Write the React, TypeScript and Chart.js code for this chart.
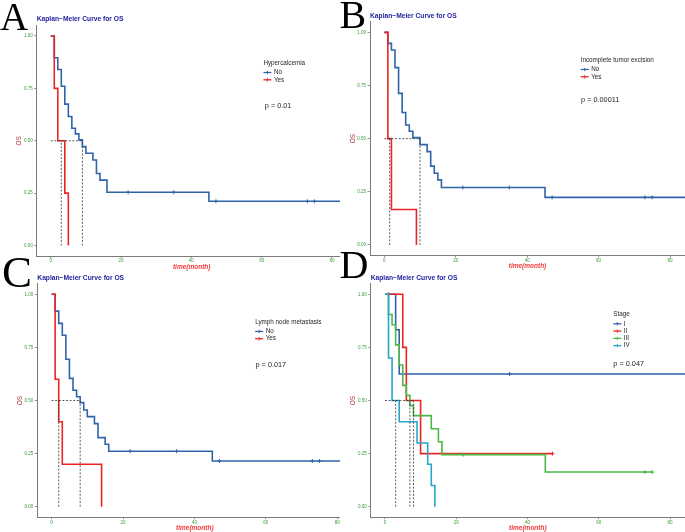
import React, { useEffect, useRef } from 'react';
import { Chart, registerables } from 'chart.js';

Chart.register(...registerables);

const FONT = '"Liberation Sans", Arial, Helvetica, sans-serif';
Chart.defaults.font.family = FONT;

// ---------------- shared axis data ----------------
const xTicks = [0, 20, 40, 60, 80];
const yTicks = [0, 0.25, 0.5, 0.75, 1];
const xRange = [-4, 84.2];
const yRange = [-0.05, 1.05];
const plotTitle = 'Kaplan\u2212Meier Curve for OS';
const xTitle = 'time(month)';
const yTitle = 'OS';

// ---------------- Panel A: Hypercalcemia ----------------
const aNoTimes = [0, 1, 2, 3, 4, 5, 6, 7, 8, 9, 10, 12, 13, 14, 16, 45];
const aNoSurv = [1, 0.896, 0.84, 0.76, 0.675, 0.616, 0.56, 0.533, 0.504, 0.472, 0.44, 0.408, 0.344, 0.312, 0.254, 0.211];
const aNoCensor = [22, 35, 47, 73, 75];
const aYesTimes = [0, 1, 2, 4, 5];
const aYesSurv = [1, 0.75, 0.5, 0.25, 0];
const aYesCensor: number[] = [];
const aMedians = [3, 9];
const aGroups = ['No', 'Yes'];
const aLegendTitle = 'Hypercalcemia';
const aP = 'p = 0.01';

// ---------------- Panel B: Incomplete tumor excision ----------------
const bNoTimes = [0, 1, 2, 3, 4, 5, 6, 7, 8, 10, 12, 13, 14, 15, 16, 45];
const bNoSurv = [1, 0.948, 0.917, 0.834, 0.713, 0.623, 0.564, 0.535, 0.505, 0.472, 0.439, 0.371, 0.337, 0.306, 0.27, 0.224];
const bNoCensor = [22, 35, 47, 73, 75];
const bYesTimes = [0, 1, 2, 9];
const bYesSurv = [1, 0.5, 0.167, 0];
const bYesCensor: number[] = [];
const bMedians = [1.5, 10];
const bGroups = ['No', 'Yes'];
const bLegendTitle = 'Incomplete tumor excision';
const bP = 'p = 0.00011';

// ---------------- Panel C: Lymph node metastasis ----------------
const cNoTimes = [0, 1, 2, 3, 4, 5, 6, 7, 8, 9, 10, 12, 13, 15, 16, 45];
const cNoSurv = [1, 0.921, 0.863, 0.807, 0.694, 0.604, 0.548, 0.518, 0.49, 0.455, 0.424, 0.391, 0.325, 0.294, 0.261, 0.215];
const cNoCensor = [22, 35, 47, 73, 75];
const cYesTimes = [0, 1, 2, 3, 14];
const cYesSurv = [1, 0.6, 0.4, 0.2, 0];
const cYesCensor: number[] = [];
const cMedians = [2, 8];
const cGroups = ['No', 'Yes'];
const cLegendTitle = 'Lymph node metastasis';
const cP = 'p = 0.017';

// ---------------- Panel D: Stage ----------------
const dITimes = [0, 3, 4];
const dISurv = [1, 0.833, 0.625];
const dICensor = [35];
const dIITimes = [0, 5, 6, 10];
const dIISurv = [1, 0.75, 0.5, 0.25];
const dIICensor = [1, 47];
const dIIITimes = [0, 1, 2, 3, 4, 5, 6, 7, 8, 13, 15, 16, 45];
const dIIISurv = [1, 0.905, 0.857, 0.762, 0.667, 0.571, 0.524, 0.476, 0.429, 0.367, 0.306, 0.245, 0.163];
const dIIICensor = [22, 73, 75];
const dIVTimes = [0, 1, 2, 4, 9, 12, 13, 14];
const dIVSurv = [1, 0.7, 0.5, 0.4, 0.3, 0.2, 0.1, 0];
const dIVCensor: number[] = [];
const dMedians = [3, 7, 8];
const dGroups = ['I', 'II', 'III', 'IV'];
const dLegendTitle = 'Stage';
const dP = 'p = 0.047';

// open-ended follow-up (curve continues past the visible axis)
const OPEN_END = 90;

// ---------------- styles ----------------
const BLUE = '#2f64aa';
const RED = '#ec2424';
const GREEN = '#4cb848';
const CYAN = '#25a7cb';
const TICK_GREEN = '#3a9a3a';
const AXIS_GREY = '#7a7a7a';

type Pt = { x: number; y: number; c: boolean };

function kmPoints(times: number[], surv: number[], censor: number[], end?: number): Pt[] {
  const level = (t: number) => {
    let s = 1;
    times.forEach((tt, i) => {
      if (tt <= t) s = surv[i];
    });
    return s;
  };
  const pts: Pt[] = times.map((t, i) => ({ x: t, y: surv[i], c: false }));
  censor.forEach((t) => pts.push({ x: t, y: level(t), c: true }));
  if (end !== undefined) pts.push({ x: end, y: level(end), c: false });
  pts.sort((a, b) => a.x - b.x);
  return pts;
}

function curveDataset(pts: Pt[], color: string) {
  return {
    data: pts,
    borderColor: color,
    backgroundColor: color,
    borderWidth: 1.6,
    stepped: true,
    fill: false,
    pointStyle: 'cross',
    pointRadius: (ctx: any) => (ctx.raw && ctx.raw.c ? 2 : 0),
    pointHoverRadius: 0,
    pointBorderColor: color,
    pointBorderWidth: 1,
  };
}

function medianDatasets(meds: number[]) {
  const maxM = Math.max(...meds);
  const segs = [
    [
      { x: 0, y: 0.5 },
      { x: maxM, y: 0.5 },
    ],
  ];
  meds.forEach((m) =>
    segs.push([
      { x: m, y: 0 },
      { x: m, y: 0.5 },
    ])
  );
  return segs.map((data) => ({
    data,
    borderColor: '#333333',
    borderWidth: 0.8,
    borderDash: [2, 1.6],
    pointRadius: 0,
    pointHoverRadius: 0,
    fill: false,
  }));
}

const kmNotes = {
  id: 'kmNotes',
  afterDatasetsDraw(chart: any, _args: any, opts: any) {
    if (!opts || !opts.title) return;
    const { ctx } = chart;
    const xs = chart.scales.x;
    const ys = chart.scales.y;
    const lx = xs.getPixelForValue(opts.at[0]);
    const ly = ys.getPixelForValue(opts.at[1]);
    ctx.save();
    ctx.textBaseline = 'middle';
    ctx.textAlign = 'left';
    ctx.fillStyle = '#262626';
    ctx.font = `6.3px ${FONT}`;
    ctx.fillText(opts.title, lx, ly);
    const labels: string[] = opts.labels;
    const colors: string[] = opts.colors;
    for (let i = 0; i < labels.length; i++) {
      const yy = ly + 9.5 + i * 7.3;
      ctx.strokeStyle = colors[i];
      ctx.lineWidth = 1.3;
      ctx.beginPath();
      ctx.moveTo(lx, yy);
      ctx.lineTo(lx + 8, yy);
      ctx.stroke();
      ctx.lineWidth = 0.9;
      ctx.beginPath();
      ctx.moveTo(lx + 4, yy - 1.7);
      ctx.lineTo(lx + 4, yy + 1.7);
      ctx.stroke();
      ctx.fillStyle = '#262626';
      ctx.fillText(labels[i], lx + 10.5, yy);
    }
    ctx.font = `7.3px ${FONT}`;
    ctx.fillText(opts.pText, xs.getPixelForValue(opts.pAt[0]), ys.getPixelForValue(opts.pAt[1]));
    ctx.restore();
  },
};

// ---------------- layout ----------------
const Y_AXIS_W = 21;
const X_AXIS_H = 15;
const TITLE_SIZE = 6.7;
const TITLE_H = TITLE_SIZE * 1.2 + 2;

type Area = { L: number; T: number; R: number; B: number };

function geometry(a: Area) {
  const left = Math.floor(a.L - Y_AXIS_W);
  const top = Math.floor(a.T - TITLE_H);
  const right = Math.ceil(a.R);
  const bottom = Math.ceil(a.B + X_AXIS_H);
  return {
    left,
    top,
    width: right - left,
    height: bottom - top,
    padding: {
      left: a.L - Y_AXIS_W - left,
      top: a.T - TITLE_H - top,
      right: right - a.R,
      bottom: bottom - a.B - X_AXIS_H,
    },
  };
}

type PanelSpec = {
  area: Area;
  clipRight: number;
  datasets: any[];
  legendTitle: string;
  labels: string[];
  colors: string[];
  at: number[];
  pText: string;
  pAt: number[];
};

const panels: PanelSpec[] = [
  {
    area: { L: 36.7, T: 25.5, R: 346.7, B: 256 },
    clipRight: 340,
    datasets: [
      ...medianDatasets(aMedians),
      curveDataset(kmPoints(aYesTimes, aYesSurv, aYesCensor), RED),
      curveDataset(kmPoints(aNoTimes, aNoSurv, aNoCensor, OPEN_END), BLUE),
    ],
    legendTitle: aLegendTitle,
    labels: aGroups,
    colors: [BLUE, RED],
    at: [60.5, 0.871],
    pText: aP,
    pAt: [60.9, 0.666],
  },
  {
    area: { L: 370, T: 21.7, R: 685, B: 255.6 },
    clipRight: 685,
    datasets: [
      ...medianDatasets(bMedians),
      curveDataset(kmPoints(bYesTimes, bYesSurv, bYesCensor), RED),
      curveDataset(kmPoints(bNoTimes, bNoSurv, bNoCensor, OPEN_END), BLUE),
    ],
    legendTitle: bLegendTitle,
    labels: bGroups,
    colors: [BLUE, RED],
    at: [55.0, 0.87],
    pText: bP,
    pAt: [55.1, 0.683],
  },
  {
    area: { L: 37.3, T: 283.7, R: 352.3, B: 517.3 },
    clipRight: 340,
    datasets: [
      ...medianDatasets(cMedians),
      curveDataset(kmPoints(cYesTimes, cYesSurv, cYesCensor), RED),
      curveDataset(kmPoints(cNoTimes, cNoSurv, cNoCensor, OPEN_END), BLUE),
    ],
    legendTitle: cLegendTitle,
    labels: cGroups,
    colors: [BLUE, RED],
    at: [57.0, 0.87],
    pText: cP,
    pAt: [57.1, 0.667],
  },
  {
    area: { L: 370.7, T: 283.7, R: 685, B: 517.3 },
    clipRight: 685,
    datasets: [
      ...medianDatasets(dMedians),
      curveDataset(kmPoints(dIVTimes, dIVSurv, dIVCensor), CYAN),
      curveDataset(kmPoints(dIIITimes, dIIISurv, dIIICensor), GREEN),
      curveDataset(kmPoints(dIITimes, dIISurv, dIICensor), RED),
      curveDataset(kmPoints(dITimes, dISurv, dICensor, OPEN_END), BLUE),
    ],
    legendTitle: dLegendTitle,
    labels: dGroups,
    colors: [BLUE, RED, GREEN, CYAN],
    at: [64.1, 0.906],
    pText: dP,
    pAt: [64.1, 0.673],
  },
];

function buildConfig(p: PanelSpec, g: ReturnType<typeof geometry>): any {
  return {
    type: 'line',
    data: { datasets: p.datasets },
    plugins: [kmNotes],
    options: {
      animation: false,
      responsive: false,
      maintainAspectRatio: false,
      devicePixelRatio: 1,
      events: [],
      layout: { padding: g.padding, autoPadding: false },
      plugins: {
        legend: { display: false },
        tooltip: { enabled: false },
        title: {
          display: true,
          text: plotTitle,
          align: 'start',
          fullSize: false,
          color: '#1e1e9c',
          font: { family: FONT, size: TITLE_SIZE, weight: 'bold', lineHeight: 1.2 },
          padding: { top: 0, bottom: 2 },
        },
        kmNotes: {
          title: p.legendTitle,
          labels: p.labels,
          colors: p.colors,
          at: p.at,
          pText: p.pText,
          pAt: p.pAt,
        },
      },
      scales: {
        x: {
          type: 'linear',
          min: xRange[0],
          max: xRange[1],
          afterFit: (s: any) => {
            s.height = X_AXIS_H;
          },
          afterBuildTicks: (s: any) => {
            s.ticks = xTicks.map((v) => ({ value: v }));
          },
          ticks: {
            color: TICK_GREEN,
            font: { size: 4.5 },
            padding: 0.5,
            maxRotation: 0,
            autoSkip: false,
            callback: (v: any) => String(v),
          },
          grid: { display: true, drawOnChartArea: false, drawTicks: true, tickLength: 2, tickColor: AXIS_GREY, lineWidth: 0.8 },
          border: { display: true, color: AXIS_GREY, width: 1 },
          title: {
            display: true,
            text: xTitle,
            color: '#f23a3a',
            font: { size: 6.5, weight: 'bold', style: 'italic', lineHeight: 1.2 },
            padding: { top: 0, bottom: 0 },
          },
        },
        y: {
          type: 'linear',
          min: yRange[0],
          max: yRange[1],
          afterFit: (s: any) => {
            s.width = Y_AXIS_W;
          },
          afterBuildTicks: (s: any) => {
            s.ticks = yTicks.map((v) => ({ value: v }));
          },
          ticks: {
            color: TICK_GREEN,
            font: { size: 4.5 },
            padding: 1.5,
            autoSkip: false,
            callback: (v: any) => Number(v).toFixed(2),
          },
          grid: { display: true, drawOnChartArea: false, drawTicks: true, tickLength: 2.5, tickColor: AXIS_GREY, lineWidth: 0.8 },
          border: { display: true, color: AXIS_GREY, width: 1 },
          title: {
            display: true,
            text: yTitle,
            color: '#b03434',
            font: { size: 6.5, lineHeight: 1.2 },
            padding: { top: 0, bottom: 0 },
          },
        },
      },
    },
  };
}

function KMPanel({ p }: { p: PanelSpec }) {
  const ref = useRef<HTMLCanvasElement>(null);
  const g = geometry(p.area);
  useEffect(() => {
    if (!ref.current) return;
    const chart = new Chart(ref.current, buildConfig(p, g));
    return () => chart.destroy();
  }, []);
  return (
    <div style={{ position: 'absolute', left: 0, top: 0, width: p.clipRight, height: 532, overflow: 'hidden' }}>
      <canvas
        ref={ref}
        width={g.width}
        height={g.height}
        style={{ position: 'absolute', left: g.left, top: g.top, width: g.width, height: g.height }}
      />
    </div>
  );
}

const letters = [
  { t: 'A', left: 0, top: -2.7, size: 39 },
  { t: 'B', left: 339.5, top: -5.2, size: 40 },
  { t: 'C', left: 2, top: 250, size: 45 },
  { t: 'D', left: 339.5, top: 245.2, size: 40 },
];

export default function App() {
  return (
    <div style={{ position: 'absolute', left: 0, top: 0, width: 685, height: 532, background: '#ffffff', overflow: 'hidden' }}>
      {panels.map((p, i) => (
        <KMPanel key={i} p={p} />
      ))}
      {letters.map((l) => (
        <div
          key={l.t}
          style={{
            position: 'absolute',
            left: l.left,
            top: l.top,
            fontFamily: '"Liberation Serif", "Times New Roman", serif',
            fontSize: l.size,
            lineHeight: 1,
            color: '#000',
          }}
        >
          {l.t}
        </div>
      ))}
    </div>
  );
}
